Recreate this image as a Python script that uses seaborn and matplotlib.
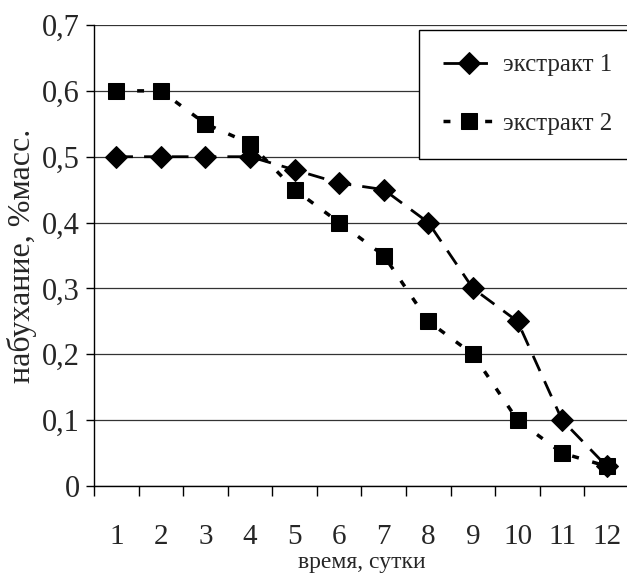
import matplotlib
matplotlib.use("Agg")
import matplotlib.pyplot as plt
import seaborn as sns
import pandas as pd
import numpy as np
from matplotlib.ticker import FixedLocator, FuncFormatter

days = [1, 2, 3, 4, 5, 6, 7, 8, 9, 10, 11, 12]
extract1 = [0.50, 0.50, 0.50, 0.50, 0.48, 0.46, 0.45, 0.40, 0.30, 0.25, 0.10, 0.03]
extract2 = [0.60, 0.60, 0.55, 0.52, 0.45, 0.40, 0.35, 0.25, 0.20, 0.10, 0.05, 0.03]
series_names = ["экстракт 1", "экстракт 2"]
x_label = "время, сутки"
y_label = "набухание, %масс."
y_ticks = [0, 0.1, 0.2, 0.3, 0.4, 0.5, 0.6, 0.7]

sns.set_style("white")
plt.rcParams["font.family"] = ["Liberation Serif", "DejaVu Serif"]

fig = plt.figure(figsize=(6.27, 5.75), dpi=100)
ax = fig.add_axes([94/627, 1-486/575, (629-94)/627, (486-25)/575])

df1 = pd.DataFrame({"day": days, "val": extract1})
df2 = pd.DataFrame({"day": days, "val": extract2})

sns.lineplot(data=df1, x="day", y="val", ax=ax, color="black", lw=2,
             marker="D", markersize=11, markeredgecolor="black",
             dashes=False, label=series_names[0], zorder=3)
sns.lineplot(data=df2, x="day", y="val", ax=ax, color="black", lw=2.5,
             marker="s", markersize=12, markeredgecolor="black",
             dashes=False, label=series_names[1], zorder=4)
lines = ax.get_lines()
lines[0].set_dashes([6, 4])
lines[1].set_dashes([2, 4])

ax.set_xlim(0.5, 12.5)
ax.set_ylim(0, 0.7)
ax.yaxis.set_major_locator(FixedLocator(y_ticks))
ax.yaxis.set_major_formatter(FuncFormatter(lambda v, p: "0" if v == 0 else f"{v:.1f}".replace(".", ",")))
ax.set_xticks(days)
ax.set_xticklabels([str(d) for d in days])
ax.xaxis.set_minor_locator(FixedLocator(np.arange(0.5, 13, 1)))
ax.tick_params(axis="x", which="major", length=0, pad=27, labelsize=21)
ax.tick_params(axis="x", which="minor", length=7.5, width=1, direction="out", color="black", bottom=True)
ax.tick_params(axis="y", which="major", length=6, width=1, direction="out", color="black", left=True, pad=4, labelsize=22)

ax.grid(axis="y", color="#333333", lw=0.9)
ax.grid(axis="x", visible=False)
for s in ["top", "right"]:
    ax.spines[s].set_visible(False)
for s in ["left", "bottom"]:
    ax.spines[s].set_color("black")
    ax.spines[s].set_linewidth(1)

ax.set_xlabel(x_label, fontsize=17, labelpad=2)
ax.set_ylabel(y_label, fontsize=23, labelpad=4)

leg = ax.legend(loc="upper left", bbox_to_anchor=(0.6075, 0.989), fontsize=18,
                frameon=True, fancybox=False, framealpha=1, edgecolor="black",
                handlelength=2.1, labelspacing=1.45, borderpad=0.95, handletextpad=0.3,
                borderaxespad=0)
leg.get_frame().set_linewidth(1)
leg.set_zorder(10)

fig.savefig("out.png", dpi=100)
